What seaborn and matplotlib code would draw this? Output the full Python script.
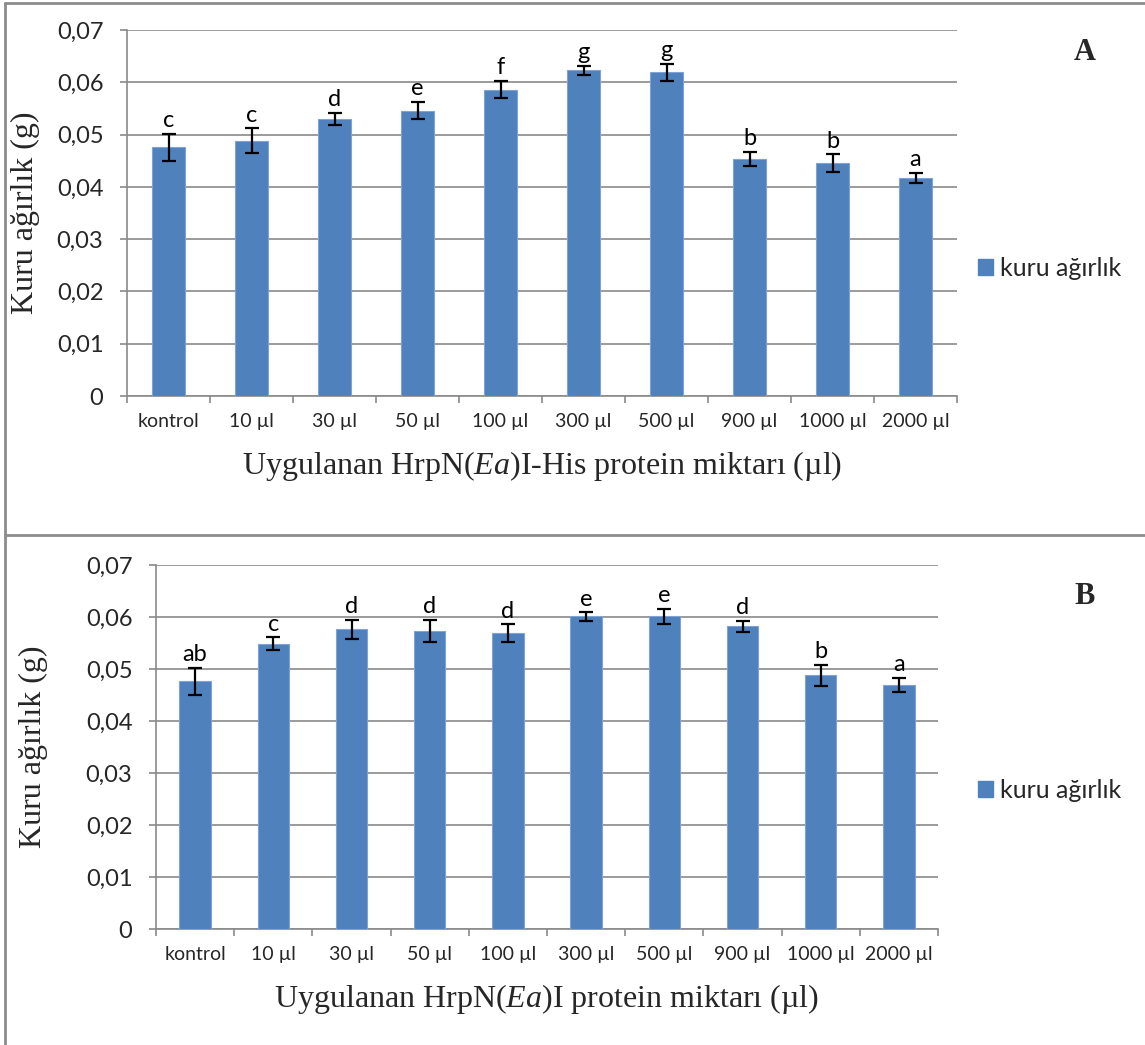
import matplotlib
matplotlib.use("Agg")
import matplotlib.pyplot as plt
from matplotlib.lines import Line2D
from matplotlib.patches import Patch
import seaborn as sns
import pandas as pd

# ---- data ----
doses = ["kontrol", "10 µl", "30 µl", "50 µl", "100 µl", "300 µl", "500 µl",
         "900 µl", "1000 µl", "2000 µl"]
values_a = [0.0476, 0.0488, 0.0530, 0.0546, 0.0586, 0.0623, 0.0619, 0.0453, 0.0445, 0.0417]
errors_a = [0.0026, 0.0024, 0.0012, 0.0016, 0.0016, 0.0009, 0.0016, 0.0014, 0.0017, 0.0009]
letters_a = ["c", "c", "d", "e", "f", "g", "g", "b", "b", "a"]
values_b = [0.0476, 0.0549, 0.0576, 0.0573, 0.0569, 0.0601, 0.0601, 0.0582, 0.0488, 0.0469]
errors_b = [0.0026, 0.0012, 0.0018, 0.0021, 0.0017, 0.0008, 0.0014, 0.0010, 0.0020, 0.0014]
letters_b = ["ab", "c", "d", "d", "d", "e", "e", "d", "b", "a"]
yticks = [0, 0.01, 0.02, 0.03, 0.04, 0.05, 0.06, 0.07]
ytick_labels = ["0", "0,01", "0,02", "0,03", "0,04", "0,05", "0,06", "0,07"]
series_name = "kuru ağırlık"
ylabel = "Kuru ağırlık (g)"
xlabel_a = r"Uygulanan HrpN($\mathit{Ea}$)I-His protein miktarı (µl)"
xlabel_b = r"Uygulanan HrpN($\mathit{Ea}$)I protein miktarı (µl)"

sns.set_theme(style="white")
plt.rcParams["font.family"] = ["Lato", "DejaVu Sans"]
plt.rcParams["mathtext.fontset"] = "custom"
plt.rcParams["mathtext.rm"] = "Liberation Serif"
plt.rcParams["mathtext.it"] = "Liberation Serif:italic"
plt.rcParams["mathtext.bf"] = "Liberation Serif:bold"

BLUE = "#4F81BD"
GRID = "#8a8a8a"
W, H = 1145, 1045
fig = plt.figure(figsize=(W / 100, H / 100), dpi=100)
fig.patch.set_facecolor("white")


def px_axes(left, right, top, bottom):
    return fig.add_axes([left / W, 1 - bottom / H, (right - left) / W, (bottom - top) / H])


def draw_panel(ax, values, errors, letters, xlabel, ylab_x, tag, tag_y, legend_y):
    df = pd.DataFrame({"doz": doses, "deger": values})
    sns.barplot(data=df, x="doz", y="deger", color=BLUE, width=0.4, ax=ax,
                errorbar=None, edgecolor="#7ea3d4", linewidth=0.8, saturation=1, zorder=3)
    ax.errorbar(range(len(values)), values, yerr=errors, fmt="none", ecolor="black",
                elinewidth=1.6, capsize=5, capthick=1.6, zorder=4)
    for i, (v, e, l) in enumerate(zip(values, errors, letters)):
        ax.annotate(l, (i, v + e), xytext=(0, 2), textcoords="offset points",
                    ha="center", va="bottom", fontsize=17, color="black")
    ax.set_ylim(0, 0.07)
    ax.set_xlim(-0.5, len(values) - 0.5)
    ax.set_yticks(yticks)
    ax.set_yticklabels(ytick_labels, fontsize=17)
    ax.grid(axis="y", color=GRID, linewidth=1.2, zorder=0)
    ax.set_axisbelow(True)
    for s in ["top", "right"]:
        ax.spines[s].set_visible(False)
    for s in ["left", "bottom"]:
        ax.spines[s].set_color(GRID)
        ax.spines[s].set_linewidth(1.2)
    ax.tick_params(axis="y", which="major", length=5, width=1.2, color=GRID, pad=12,
                   left=True, direction="out")
    ax.set_xticks([i - 0.5 for i in range(len(values) + 1)], minor=True)
    ax.tick_params(axis="x", which="minor", length=5, width=1.2, color=GRID,
                   bottom=True, direction="out")
    ax.tick_params(axis="x", which="major", length=0, pad=12, labelsize=14)
    ax.set_xlabel(xlabel, fontsize=23, family="Liberation Serif")
    ax.set_ylabel(ylabel, fontsize=23, family="Liberation Serif")
    ax.xaxis.set_label_coords(0.5, -0.145)
    ax.yaxis.set_label_coords(ylab_x, 0.5)
    fig.text(1085 / W, 1 - tag_y / H, tag, ha="center", va="center", fontsize=22,
             fontweight="bold", family="Liberation Serif")
    ax.legend(handles=[Patch(facecolor=BLUE, edgecolor=BLUE, label=series_name)],
              loc="center left", bbox_to_anchor=(978 / W, 1 - legend_y / H),
              bbox_transform=fig.transFigure, frameon=False, fontsize=18,
              handlelength=0.6, handleheight=0.6, handletextpad=0.3,
              borderpad=0, borderaxespad=0)


axA = px_axes(127, 957, 30, 396)
draw_panel(axA, values_a, errors_a, letters_a, xlabel_a, -0.105, "A", 52, 268)
axB = px_axes(156, 938, 565, 929)
draw_panel(axB, values_b, errors_b, letters_b, xlabel_b, -0.138, "B", 596, 790)

# outer frame lines
for (x0, y0, x1, y1) in [(5, 3, W, 3), (5, 3, 5, H), (5, 535, W, 535)]:
    fig.add_artist(Line2D([x0 / W, x1 / W], [1 - y0 / H, 1 - y1 / H],
                          transform=fig.transFigure, color="#8c8c8c", linewidth=2))

fig.savefig("out.png", dpi=100, facecolor="white")
